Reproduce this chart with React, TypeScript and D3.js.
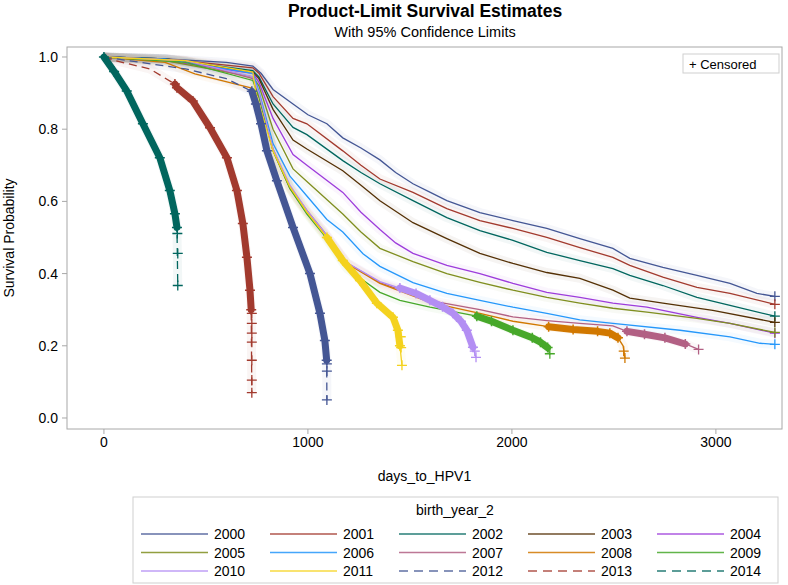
import React from 'react';
import * as d3 from 'd3';

type Pt = [number, number];

// birth cohorts and SAS HTMLBlue group colours
const years = ['2000', '2001', '2002', '2003', '2004', '2005', '2006', '2007', '2008', '2009', '2010', '2011', '2012', '2013', '2014'];
const colors = ['#445694', '#A23A2E', '#01665E', '#543005', '#9D3CDB', '#7F8E1F', '#2597FA', '#B26084', '#D17800', '#47A82A', '#B38EF3', '#F4D21F', '#445694', '#A23A2E', '#01665E'];
const dashed = [false, false, false, false, false, false, false, false, false, false, false, false, true, true, true];

const xTicks = [0, 1000, 2000, 3000];
const yTicks = [0, 0.2, 0.4, 0.6, 0.8, 1.0];

// survival estimates: [days, survival]
const km2000: Pt[] = [[0, 1], [300, 0.995], [600, 0.985], [730, 0.975], [770, 0.955], [829, 0.91], [927, 0.87], [1000, 0.84], [1093, 0.815], [1171, 0.776], [1260, 0.748], [1353, 0.715], [1430, 0.68], [1515, 0.649], [1600, 0.625], [1681, 0.602], [1843, 0.569], [2005, 0.547], [2171, 0.525], [2333, 0.497], [2495, 0.47], [2578, 0.442], [2740, 0.417], [2907, 0.395], [3069, 0.373], [3201, 0.345], [3289, 0.337]];
const km2001: Pt[] = [[0, 1], [300, 0.995], [730, 0.97], [760, 0.955], [829, 0.89], [927, 0.83], [995, 0.815], [1171, 0.74], [1260, 0.7], [1353, 0.662], [1515, 0.625], [1681, 0.58], [1843, 0.547], [2005, 0.525], [2171, 0.5], [2333, 0.472], [2495, 0.445], [2578, 0.423], [2740, 0.39], [2907, 0.362], [3069, 0.345], [3289, 0.315]];
const km2002: Pt[] = [[0, 1], [300, 0.995], [730, 0.962], [760, 0.945], [829, 0.87], [927, 0.805], [995, 0.785], [1171, 0.713], [1260, 0.68], [1353, 0.649], [1515, 0.602], [1681, 0.555], [1843, 0.519], [2005, 0.492], [2171, 0.459], [2333, 0.436], [2495, 0.414], [2578, 0.395], [2740, 0.367], [2907, 0.334], [3069, 0.312], [3289, 0.282]];
const km2003: Pt[] = [[0, 1], [300, 0.995], [730, 0.958], [760, 0.94], [829, 0.855], [927, 0.77], [995, 0.745], [1171, 0.685], [1260, 0.645], [1353, 0.602], [1515, 0.541], [1681, 0.497], [1843, 0.456], [2005, 0.428], [2171, 0.403], [2333, 0.387], [2495, 0.354], [2578, 0.332], [2740, 0.318], [2985, 0.298], [3289, 0.265]];
const km2004: Pt[] = [[0, 1], [300, 0.99], [730, 0.955], [760, 0.93], [829, 0.83], [927, 0.73], [995, 0.7], [1171, 0.625], [1260, 0.57], [1353, 0.522], [1430, 0.485], [1515, 0.456], [1681, 0.423], [1843, 0.4], [2005, 0.373], [2171, 0.348], [2333, 0.334], [2495, 0.318], [2662, 0.307], [2907, 0.279], [3069, 0.262], [3289, 0.235]];
const km2005: Pt[] = [[0, 1], [300, 0.99], [730, 0.945], [760, 0.92], [829, 0.8], [927, 0.69], [995, 0.655], [1171, 0.565], [1260, 0.515], [1353, 0.47], [1515, 0.433], [1681, 0.4], [1843, 0.376], [2005, 0.354], [2171, 0.334], [2333, 0.318], [2495, 0.304], [2662, 0.293], [2907, 0.276], [3069, 0.262], [3289, 0.237]];
const km2006: Pt[] = [[0, 1], [300, 0.995], [730, 0.955], [760, 0.905], [829, 0.76], [912, 0.67], [995, 0.615], [1093, 0.55], [1171, 0.515], [1270, 0.455], [1353, 0.42], [1515, 0.375], [1681, 0.345], [1843, 0.326], [2005, 0.307], [2171, 0.29], [2333, 0.272], [2495, 0.262], [2824, 0.243], [3069, 0.225], [3216, 0.207], [3289, 0.204]];
const km2007: Pt[] = [[0, 1], [400, 0.99], [730, 0.94], [760, 0.895], [829, 0.745], [912, 0.64], [995, 0.575], [1074, 0.52], [1191, 0.43], [1353, 0.375], [1598, 0.325], [1843, 0.3], [2005, 0.28], [2171, 0.27], [2333, 0.262], [2495, 0.255], [2564, 0.24], [2650, 0.232], [2750, 0.222], [2850, 0.205], [2915, 0.19]];
const km2008: Pt[] = [[0, 1], [300, 0.985], [446, 0.953], [725, 0.914], [760, 0.89], [829, 0.74], [912, 0.635], [995, 0.57], [1074, 0.515], [1191, 0.428], [1353, 0.373], [1598, 0.32], [1843, 0.29], [2005, 0.268], [2180, 0.253], [2300, 0.245], [2420, 0.24], [2480, 0.235], [2520, 0.222], [2545, 0.2], [2554, 0.166]];
const km2009: Pt[] = [[0, 1], [400, 0.985], [730, 0.935], [760, 0.89], [829, 0.74], [912, 0.635], [995, 0.565], [1074, 0.51], [1191, 0.414], [1353, 0.348], [1451, 0.326], [1598, 0.307], [1828, 0.282], [1900, 0.268], [2005, 0.243], [2100, 0.222], [2140, 0.21], [2175, 0.195], [2186, 0.175]];
const km2010: Pt[] = [[0, 1], [400, 0.99], [730, 0.945], [760, 0.9], [829, 0.745], [912, 0.645], [995, 0.575], [1074, 0.52], [1191, 0.43], [1353, 0.378], [1451, 0.36], [1530, 0.345], [1598, 0.326], [1660, 0.308], [1711, 0.29], [1750, 0.268], [1779, 0.243], [1809, 0.196], [1824, 0.168]];
const km2011: Pt[] = [[0, 1], [400, 0.99], [730, 0.958], [745, 0.9], [829, 0.74], [912, 0.64], [995, 0.57], [1093, 0.5], [1171, 0.436], [1255, 0.381], [1338, 0.318], [1417, 0.279], [1441, 0.243], [1451, 0.2], [1461, 0.146]];
const km2012: Pt[] = [[0, 1], [120, 0.99], [400, 0.967], [600, 0.94], [725, 0.905], [745, 0.87], [770, 0.815], [799, 0.74], [848, 0.657], [927, 0.528], [1010, 0.4], [1059, 0.29], [1083, 0.215], [1092, 0.16], [1093, 0.05]];
const km2013: Pt[] = [[0, 1], [54, 0.99], [225, 0.967], [348, 0.925], [358, 0.915], [436, 0.878], [520, 0.804], [603, 0.721], [652, 0.63], [681, 0.539], [701, 0.445], [716, 0.354], [722, 0.3], [725, 0.07]];
const km2014: Pt[] = [[0, 1], [50, 0.96], [112, 0.906], [191, 0.815], [274, 0.721], [323, 0.63], [348, 0.566], [358, 0.528], [362, 0.367]];

// day range over which censor marks run together into a solid band (null = none)
const denseFrom: (number | null)[] = [null, null, null, null, null, null, null, 2564, 2180, 1828, 1451, 1093, 725, 348, 0];
const denseTo: (number | null)[] = [null, null, null, null, null, null, null, 2905, 2540, 2180, 1812, 1452, 1092, 722, 358];

// separate censor marks at the ends of the curves
const cens2000: Pt[] = [[3289, 0.337]];
const cens2001: Pt[] = [[3289, 0.315]];
const cens2002: Pt[] = [[3289, 0.282]];
const cens2003: Pt[] = [[3289, 0.265]];
const cens2004: Pt[] = [[3289, 0.235]];
const cens2005: Pt[] = [[3289, 0.237]];
const cens2006: Pt[] = [[3289, 0.204]];
const cens2007: Pt[] = [[2915, 0.19]];
const cens2008: Pt[] = [[2548, 0.185], [2554, 0.166]];
const cens2009: Pt[] = [[2186, 0.178]];
const cens2010: Pt[] = [[1818, 0.185], [1824, 0.168]];
const cens2011: Pt[] = [[1455, 0.225], [1457, 0.195], [1461, 0.146]];
const cens2012: Pt[] = [[1093, 0.15], [1093, 0.13], [1093, 0.05]];
const cens2013: Pt[] = [[725, 0.29], [725, 0.262], [725, 0.235], [725, 0.21], [725, 0.16], [725, 0.105], [725, 0.07]];
const cens2014: Pt[] = [[360, 0.511], [362, 0.456], [362, 0.367]];

const curves = [km2000, km2001, km2002, km2003, km2004, km2005, km2006, km2007, km2008, km2009, km2010, km2011, km2012, km2013, km2014];
const censored = [cens2000, cens2001, cens2002, cens2003, cens2004, cens2005, cens2006, cens2007, cens2008, cens2009, cens2010, cens2011, cens2012, cens2013, cens2014];

const W = 788;
const H = 585;
const frame = { left: 67, right: 782, top: 47, bottom: 429 };
const FONT = '"Liberation Sans", Arial, sans-serif';

const App: React.FC = () => {
  const x = d3.scaleLinear().domain([-181, 3324]).range([frame.left, frame.right]);
  const y = d3.scaleLinear().domain([-0.0305, 1.0277]).range([frame.bottom, frame.top]);

  const line = d3.line<Pt>()
    .x(d => x(d[0]))
    .y(d => y(d[1]))
    .curve(d3.curveLinear);

  // '+' censor glyph
  const plus = (p: Pt, s = 4) => {
    const px = x(p[0]);
    const py = y(p[1]);
    return `M${px - s},${py}h${s * 2}M${px},${py - s}v${s * 2}`;
  };

  return (
    <svg width={W} height={H} style={{ position: 'absolute', left: 0, top: 0, background: '#fff' }} fontFamily={FONT}>
      {/* titles */}
      <text x={425} y={17} textAnchor='middle' fontSize={17.5} fontWeight='bold' fill='#000'>Product-Limit Survival Estimates</text>
      <text x={425} y={37} textAnchor='middle' fontSize={14.5} fill='#000'>With 95% Confidence Limits</text>

      <defs>
        <clipPath id='plot'>
          <rect x={frame.left} y={frame.top} width={frame.right - frame.left} height={frame.bottom - frame.top} />
        </clipPath>
      </defs>

      {/* confidence haze */}
      <g clipPath='url(#plot)'>
        {curves.map((c, i) => (
          <path key={'ci' + i} d={line(c) || ''} fill='none' stroke={colors[i]} strokeWidth={9} strokeOpacity={0.05} strokeLinejoin='round' />
        ))}
      </g>

      {/* survival curves */}
      <g clipPath='url(#plot)'>
        {curves.map((c, i) => {
          const from = denseFrom[i];
          const to = denseTo[i];
          const band = from === null ? [] : c.filter(d => d[0] >= from && d[0] <= (to as number));
          return (
            <g key={'s' + i}>
              <path d={line(c) || ''} fill='none' stroke={colors[i]} strokeWidth={1.3}
                strokeDasharray={dashed[i] ? '8,5' : undefined} />
              {band.length > 1 && (
                <path d={line(band) || ''} fill='none' stroke={colors[i]} strokeWidth={7} strokeLinejoin='round' strokeLinecap='round' />
              )}
              {band.map((p, j) => (
                <path key={j} d={plus(p, 5)} stroke={colors[i]} strokeWidth={1.5} />
              ))}
              {censored[i].map((p, j) => (
                <path key={'c' + j} d={plus(p, 5)} stroke={colors[i]} strokeWidth={1.3} />
              ))}
            </g>
          );
        })}
      </g>

      {/* frame */}
      <rect x={frame.left} y={frame.top} width={frame.right - frame.left} height={frame.bottom - frame.top} fill='none' stroke='#a8a8a8' strokeWidth={1} />

      {/* y axis */}
      {yTicks.map(t => (
        <g key={'y' + t}>
          <line x1={frame.left - 5} x2={frame.left} y1={y(t)} y2={y(t)} stroke='#a8a8a8' />
          <text x={frame.left - 9} y={y(t) + 5} textAnchor='end' fontSize={14} fill='#000'>{t.toFixed(1)}</text>
        </g>
      ))}
      <text transform={`translate(14,${(frame.top + frame.bottom) / 2}) rotate(-90)`} textAnchor='middle' fontSize={14} fill='#000'>Survival Probability</text>

      {/* x axis */}
      {xTicks.map(t => (
        <g key={'x' + t}>
          <line x1={x(t)} x2={x(t)} y1={frame.bottom} y2={frame.bottom + 5} stroke='#a8a8a8' />
          <text x={x(t)} y={frame.bottom + 18} textAnchor='middle' fontSize={14} fill='#000'>{t}</text>
        </g>
      ))}
      <text x={(frame.left + frame.right) / 2} y={481} textAnchor='middle' fontSize={14} fill='#000'>days_to_HPV1</text>

      {/* censored legend */}
      <rect x={683} y={54} width={96} height={19} fill='#fff' stroke='#cfcfcf' />
      <text x={689} y={68.5} fontSize={13} fill='#000'>+ Censored</text>

      {/* group legend */}
      <rect x={133} y={497} width={645} height={86} fill='#fff' stroke='#cfcfcf' />
      <text x={455} y={515} textAnchor='middle' fontSize={14} fill='#000'>birth_year_2</text>
      {years.map((yr, i) => {
        const col = i % 5;
        const row = Math.floor(i / 5);
        const x0 = 133 + col * 129;
        const yc = 534 + row * 18.5;
        return (
          <g key={'lg' + yr}>
            <line x1={x0 + 8} x2={x0 + 75} y1={yc} y2={yc} stroke={colors[i]} strokeWidth={1.5}
              strokeDasharray={dashed[i] ? '9,6' : undefined} strokeOpacity={0.85} />
            <text x={x0 + 81} y={yc + 5} fontSize={14} fill='#000'>{yr}</text>
          </g>
        );
      })}
    </svg>
  );
};

export default App;
